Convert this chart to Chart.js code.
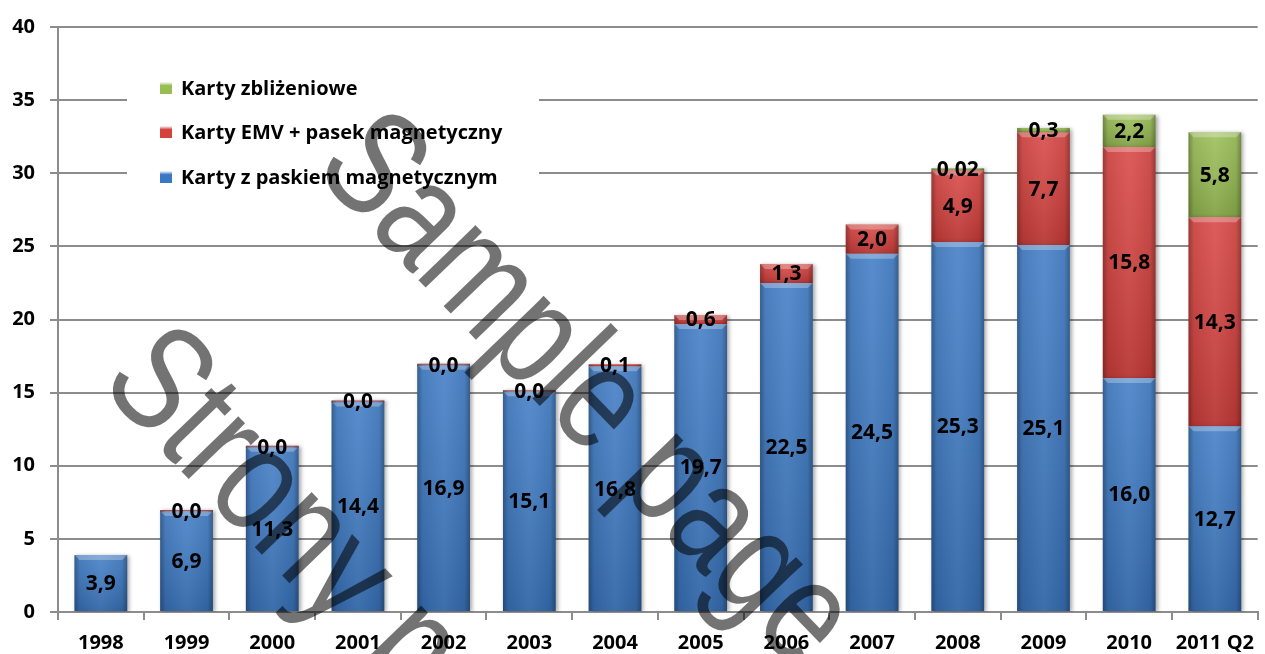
<!DOCTYPE html>
<html>
<head>
<meta charset="utf-8">
<script src="https://cdn.jsdelivr.net/npm/chart.js@4.4.1/dist/chart.umd.min.js"></script>
<style>
  html, body { margin: 0; padding: 0; background: #fff; }
  #wrap { width: 1265px; height: 654px; position: relative; }
</style>
</head>
<body>
<div id="wrap"><canvas id="chart"></canvas></div>
<script>
// chart data
const categories = ["1998", "1999", "2000", "2001", "2002", "2003", "2004", "2005", "2006", "2007", "2008", "2009", "2010", "2011 Q2"];
const magneticValues = [3.9, 6.9, 11.3, 14.4, 16.9, 15.1, 16.8, 19.7, 22.5, 24.5, 25.3, 25.1, 16.0, 12.7];
const emvValues = [null, 0, 0, 0, 0, 0, 0.1, 0.6, 1.3, 2.0, 4.9, 7.7, 15.8, 14.3];
const contactlessValues = [null, null, null, null, null, null, null, null, null, null, 0.02, 0.3, 2.2, 5.8];
const seriesNames = ["Karty z paskiem magnetycznym", "Karty EMV + pasek magnetyczny", "Karty zbliżeniowe"];
const seriesColors = ["#3b78c3", "#d6403d", "#98bd52"];
const watermarkLines = ["Sample page", "Strony page"];

const FONT = "'Open Sans', Lato, sans-serif";

function fmt(v) {
    const d = (v > 0 && v < 0.05) ? 2 : 1;
    return v.toFixed(d).replace(".", ",");
}

// bevel / shading on top of the flat bars, plus data labels
const barStyle = {
    id: "barStyle",
    beforeDatasetsDraw(chart) {
        const ctx = chart.ctx;
        ctx.save();
        ctx.shadowColor = "rgba(0,0,0,0.35)";
        ctx.shadowBlur = 4;
        ctx.shadowOffsetX = 2;
        ctx.shadowOffsetY = 1;
    },
    afterDatasetsDraw(chart) {
        const ctx = chart.ctx;
        ctx.restore();
        chart.data.datasets.forEach((ds, i) => {
            const meta = chart.getDatasetMeta(i);
            meta.data.forEach((el, j) => {
                if (ds.data[j] === null) return;
                const { x, y, base, width } = el.getProps(["x", "y", "base", "width"], true);
                const left = x - width / 2;
                const top = Math.min(y, base);
                const h = Math.abs(base - y);
                if (h < 1) return;
                ctx.save();
                let g = ctx.createLinearGradient(0, top, 0, top + h);
                g.addColorStop(0, "rgba(255,255,255,0.10)");
                g.addColorStop(1, "rgba(0,0,0,0.14)");
                ctx.fillStyle = g;
                ctx.fillRect(left, top, width, h);
                g = ctx.createLinearGradient(left, 0, left + width, 0);
                g.addColorStop(0, "rgba(0,0,0,0.30)");
                g.addColorStop(0.1, "rgba(0,0,0,0.06)");
                g.addColorStop(0.5, "rgba(255,255,255,0.05)");
                g.addColorStop(0.9, "rgba(0,0,0,0.06)");
                g.addColorStop(1, "rgba(0,0,0,0.30)");
                ctx.fillStyle = g;
                ctx.fillRect(left, top, width, h);
                if (h > 6) {
                    ctx.fillStyle = "rgba(255,255,255,0.28)";
                    ctx.beginPath();
                    ctx.moveTo(left, top);
                    ctx.lineTo(left + width, top);
                    ctx.lineTo(left + width - 5, top + 5);
                    ctx.lineTo(left + 5, top + 5);
                    ctx.closePath();
                    ctx.fill();
                }
                ctx.restore();
            });
        });
        // labels
        ctx.save();
        ctx.font = "bold 21px " + FONT;
        ctx.fillStyle = "#000";
        ctx.textAlign = "center";
        ctx.textBaseline = "middle";
        chart.data.datasets.forEach((ds, i) => {
            const meta = chart.getDatasetMeta(i);
            meta.data.forEach((el, j) => {
                const v = ds.data[j];
                if (v === null) return;
                const { x, y, base } = el.getProps(["x", "y", "base"], true);
                ctx.fillText(fmt(v), x, (y + base) / 2 + 1);
            });
        });
        ctx.restore();
    },
    afterDraw(chart) {
        const ctx = chart.ctx;
        // legend box inside the plot
        ctx.save();
        ctx.fillStyle = "#fff";
        ctx.fillRect(127, 62, 412, 136);
        const rows = [[2, 88], [1, 132], [0, 177]];
        ctx.font = "bold 20px " + FONT;
        ctx.textBaseline = "middle";
        rows.forEach(([k, yy]) => {
            const g = ctx.createLinearGradient(0, yy - 6, 0, yy + 6);
            g.addColorStop(0, "#ffffff");
            g.addColorStop(0.3, seriesColors[k]);
            g.addColorStop(1, seriesColors[k]);
            ctx.fillStyle = g;
            ctx.fillRect(160, yy - 6, 12, 12);
            ctx.fillStyle = "#000";
            ctx.fillText(seriesNames[k], 181, yy + 1);
        });
        ctx.restore();
        // watermark
        ctx.save();
        ctx.font = "150px 'Liberation Sans', Arial, sans-serif";
        ctx.fillStyle = "rgba(0,0,0,0.55)";
        ctx.textBaseline = "alphabetic";
        const origins = [[312, 170], [98, 385]];
        watermarkLines.forEach((t, k) => {
            ctx.save();
            ctx.translate(origins[k][0], origins[k][1]);
            ctx.rotate(46 * Math.PI / 180);
            ctx.scale(0.79, 1);
            ctx.fillText(t, 0, 0);
            ctx.restore();
        });
        ctx.restore();
    }
};

const datasets = [magneticValues, emvValues, contactlessValues].map((vals, i) => ({
    label: seriesNames[i],
    data: vals,
    backgroundColor: seriesColors[i],
    borderWidth: 0,
    minBarLength: i > 0 ? 2 : 0,
    categoryPercentage: 1,
    barPercentage: 0.615,
}));

new Chart(document.getElementById("chart"), {
    type: "bar",
    data: { labels: categories, datasets },
    options: {
        responsive: true,
        maintainAspectRatio: false,
        animation: false,
        layout: { padding: { top: 14, right: 0, left: 0, bottom: 0 } },
        plugins: { legend: { display: false }, tooltip: { enabled: false } },
        scales: {
            x: {
                stacked: true,
                offset: true,
                grid: { display: true, offset: true, drawOnChartArea: false, drawTicks: true, tickLength: 8, color: "#8c8c8c", lineWidth: 2 },
                border: { display: true, color: "#8c8c8c", width: 2 },
                ticks: { color: "#000", font: { family: FONT, size: 20, weight: "bold" }, padding: 11, maxRotation: 0, autoSkip: false },
                afterFit(s) { s.height = 42; },
            },
            y: {
                stacked: true,
                min: 0,
                max: 40,
                ticks: { stepSize: 5, color: "#000", font: { family: FONT, size: 20, weight: "bold" }, padding: 15 },
                grid: { color: "#8c8c8c", lineWidth: 2, tickLength: 8 },
                border: { display: true, color: "#8c8c8c", width: 2 },
                afterFit(s) { s.width = 58; },
            },
        },
    },
    plugins: [barStyle],
});
</script>
</body>
</html>
